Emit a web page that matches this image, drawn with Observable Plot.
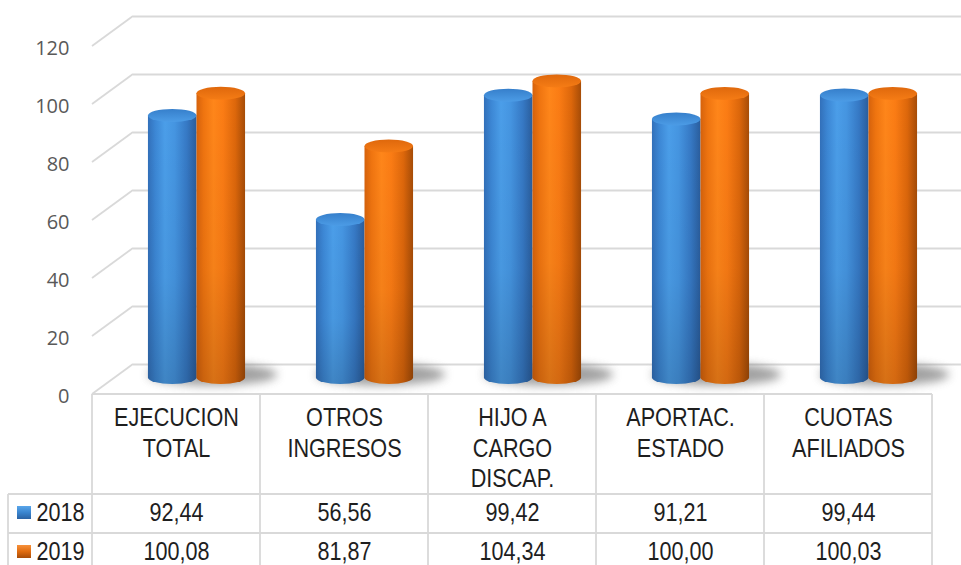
<!DOCTYPE html>
<html>
<head>
<meta charset="utf-8">
<script src="https://cdn.jsdelivr.net/npm/d3@7"></script>
<script src="https://cdn.jsdelivr.net/npm/@observablehq/plot@0.6"></script>
<style>
  html, body { margin: 0; padding: 0; background: #fff; overflow: hidden; }
  #chart svg { display: block; }
</style>
</head>
<body>
<div id="chart"></div>
<script>
// Categories (header cells of the data table, one line per "\n")
const categories = ["EJECUCION\nTOTAL", "OTROS\nINGRESOS", "HIJO A\nCARGO\nDISCAP.", "APORTAC.\nESTADO", "CUOTAS\nAFILIADOS"];
const years = ["2018", "2019"];
const values2018 = [92.44, 56.56, 99.42, 91.21, 99.44];
const values2019 = [100.08, 81.87, 104.34, 100.00, 100.03];
const yTicks = [0, 20, 40, 60, 80, 100, 120];

const series = [
  {year: years[0], values: values2018},
  {year: years[1], values: values2019}
];

// 3D layout: depth of the floor, cylinder offsets and table geometry
const DEPTH_X = 41, DEPTH_Y = 30;
const TOP_SHIFT = -10.5, BASE_SHIFT = -16.5;
const HEADER_H = 100, ROW_H = 39;
const GRID = "#d9d9d9";
const TABLE_FONT = "'Liberation Sans Narrow', 'Arial Narrow', 'Liberation Sans', Arial, sans-serif";
const NARROW = 0.865; // horizontal condensing of the table lettering
const fmt = v => v.toFixed(2).replace(".", ",");

function bandStep(x) {
  return x(categories[1]) - x(categories[0]);
}

function addGradient(defs, id, stops, vertical = false) {
  const lg = defs.append("linearGradient").attr("id", id)
    .attr("x1", 0).attr("y1", 0).attr("x2", vertical ? 0 : 1).attr("y2", vertical ? 1 : 0);
  for (const [o, c, a = 1] of stops) {
    lg.append("stop").attr("offset", o).attr("stop-color", c).attr("stop-opacity", a);
  }
}

// Left side wall: diagonal grid lines from the front edge to the back wall
function sideWall(index, {x, y}) {
  const g = d3.create("svg:g").attr("stroke", GRID).attr("stroke-width", 1.8);
  const x0 = x(categories[0]);
  for (const t of yTicks) {
    g.append("line")
      .attr("x1", x0).attr("y1", y(t))
      .attr("x2", x0 + DEPTH_X).attr("y2", y(t) - DEPTH_Y);
  }
  return g.node();
}

// Shaded cylinders, two per category, with soft floor shadows
function cylinders(index, {x, y}) {
  const step = bandStep(x);
  const barW = step * 0.289, rx = barW / 2, ry = 6.5;
  const g = d3.create("svg:g");
  const defs = g.append("defs");
  defs.append("filter").attr("id", "floorShadow")
    .attr("x", "-50%").attr("y", "-200%").attr("width", "200%").attr("height", "500%")
    .append("feGaussianBlur").attr("stdDeviation", 5);
  addGradient(defs, "body0", [[0, "#3270ba"], [0.15, "#3c87d5"], [0.35, "#4b9ee9"], [0.55, "#4595e1"], [0.8, "#3679c5"], [1, "#2a5d9c"]]);
  addGradient(defs, "body1", [[0, "#d6620c"], [0.15, "#f07510"], [0.35, "#ff861a"], [0.55, "#fb7c14"], [0.8, "#dd670b"], [1, "#a64c07"]]);
  addGradient(defs, "cap0", [[0, "#367fcb"], [1, "#4c9ce6"]], true);
  addGradient(defs, "cap1", [[0, "#df680c"], [1, "#f57c15"]], true);
  addGradient(defs, "bodyShade", [[0, "#000", 0], [0.6, "#000", 0.04], [1, "#000", 0.16]], true);

  const base = y(0) + BASE_SHIFT;
  categories.forEach(c => {
    const mid = x(c) + step / 2 + DEPTH_X / 2;
    g.append("ellipse")
      .attr("cx", mid + 16).attr("cy", base - 3)
      .attr("rx", barW + 16).attr("ry", 11)
      .attr("fill", "#707070").attr("opacity", 0.65)
      .attr("filter", "url(#floorShadow)");
  });
  series.forEach((s, k) => {
    s.values.forEach((v, i) => {
      const mid = x(categories[i]) + step / 2 + DEPTH_X / 2;
      const left = k === 0 ? mid - barW : mid;
      const top = y(v) + TOP_SHIFT;
      const d = `M${left},${top}V${base}A${rx},${ry} 0 0 0 ${left + barW},${base}V${top}Z`;
      g.append("path").attr("d", d).attr("fill", `url(#body${k})`);
      g.append("path").attr("d", d).attr("fill", "url(#bodyShade)");
      g.append("ellipse")
        .attr("cx", left + rx).attr("cy", top).attr("rx", rx).attr("ry", ry)
        .attr("fill", `url(#cap${k})`);
    });
  });
  return g.node();
}

// Data table grid below the floor, with the legend swatches
function tableGrid(index, {x, y}, values, dims) {
  const step = bandStep(x);
  const x0 = x(categories[0]);
  const xEnd = x(categories[categories.length - 1]) + step;
  const top = y(0);
  const legendLeft = 8;
  const rowTops = series.map((s, k) => top + HEADER_H + k * ROW_H);
  const g = d3.create("svg:g");
  const defs = g.append("defs");
  addGradient(defs, "swatch0", [[0, "#5aa6ea"], [0.5, "#3a85cf"], [1, "#2a62a3"]], true);
  addGradient(defs, "swatch1", [[0, "#f7913b"], [0.5, "#e06c10"], [1, "#a84c08"]], true);
  const lines = g.append("g").attr("stroke", GRID).attr("stroke-width", 1.8);
  lines.append("line").attr("x1", x0).attr("x2", xEnd).attr("y1", top).attr("y2", top);
  rowTops.forEach(ry => {
    lines.append("line").attr("x1", legendLeft).attr("x2", xEnd).attr("y1", ry).attr("y2", ry);
  });
  lines.append("line").attr("x1", legendLeft).attr("x2", legendLeft).attr("y1", rowTops[0]).attr("y2", dims.height);
  for (let i = 0; i <= categories.length; i++) {
    const xx = x0 + i * step;
    lines.append("line").attr("x1", xx).attr("x2", xx).attr("y1", top).attr("y2", dims.height);
  }
  rowTops.forEach((ry, k) => {
    g.append("rect")
      .attr("x", legendLeft + 9).attr("y", ry + 12)
      .attr("width", 14).attr("height", 13)
      .attr("fill", `url(#swatch${k})`);
  });
  return g.node();
}

const tableText = {fontFamily: TABLE_FONT, fontSize: 25, fill: "#1e1e1e", lineAnchor: "top"};

const chart = Plot.plot({
  width: 961,
  height: 565,
  marginLeft: 92,
  marginRight: 29,
  marginTop: 46,
  marginBottom: 171,
  style: {background: "#fff"},
  x: {type: "band", domain: categories, padding: 0, axis: null},
  y: {domain: [0, 120], axis: null},
  marks: [
    Plot.ruleY(yTicks, {dx: DEPTH_X, dy: -DEPTH_Y, insetRight: 12, stroke: GRID, strokeWidth: 1.8}),
    sideWall,
    Plot.axisY(yTicks, {
      tickSize: 0, tickPadding: 23, dy: 2,
      fontSize: 20, fontFamily: "'Open Sans', sans-serif", fill: "#595959",
      tickFormat: d => String(d), label: null
    }),
    cylinders,
    tableGrid,
    Plot.text(categories, {...tableText, x: d => d, y: () => 0, text: d => d, lineHeight: 1.22, dy: 10}),
    ...series.map((s, k) =>
      Plot.text(s.values, {...tableText, x: (d, i) => categories[i], y: () => 0, text: fmt, dy: HEADER_H + k * ROW_H + 9})
    ),
    ...series.map((s, k) =>
      Plot.text([s.year], {...tableText, frameAnchor: "left", y: () => 0, text: d => d, textAnchor: "start", dx: -56, dy: HEADER_H + k * ROW_H + 9})
    )
  ]
});

document.getElementById("chart").append(chart);

// Condense the table lettering to a narrow face
d3.select(chart).selectAll("g")
  .filter(function () { return (this.getAttribute("font-family") || "").includes("Narrow"); })
  .selectAll("text")
  .each(function () {
    const spans = this.querySelectorAll("tspan");
    const targets = spans.length ? Array.from(spans) : [this];
    for (const t of targets) {
      const len = t.getComputedTextLength();
      t.setAttribute("textLength", (len * NARROW).toFixed(1));
      t.setAttribute("lengthAdjust", "spacingAndGlyphs");
    }
  });
</script>
</body>
</html>
